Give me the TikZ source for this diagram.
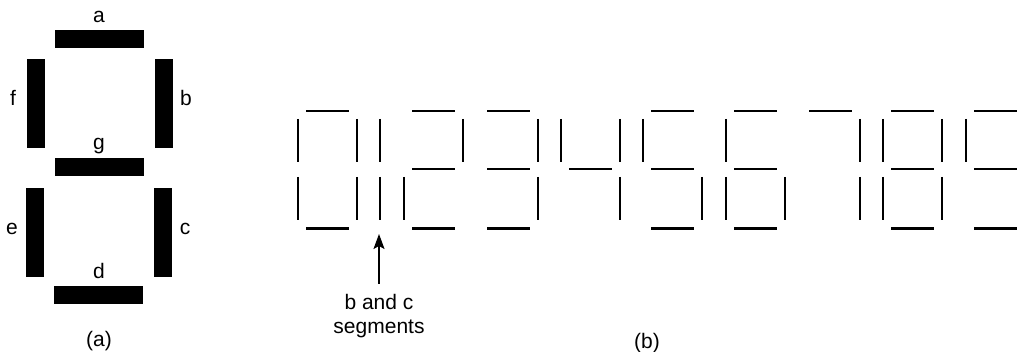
\documentclass[tikz,border=0pt]{standalone}
\usepackage{fontspec}
\setmainfont{Liberation Sans}
\usetikzlibrary{arrows.meta}
\begin{document}
\begin{tikzpicture}[x=1pt,y=-1pt,
  hseg/.style={fill=black,draw=none,minimum width=89pt,minimum height=18pt,inner sep=0pt},
  vseg/.style={fill=black,draw=none,minimum width=18pt,minimum height=89pt,inner sep=0pt},
  lbl/.style={font=\fontsize{21}{25}\selectfont,inner sep=0pt,anchor=base},
  dseg/.style={line width=2.8pt,black},
  pointer/.style={line width=1.3pt,-{Stealth[length=15pt,width=11pt,inset=3pt]}}]
\useasboundingbox (0,0) rectangle (1024,352);
% (a) segment display
\node[hseg] (sa) at (99.5,39) {};
\node[vseg] (sf) at (36,103.5) {};
\node[vseg] (sb) at (163.5,103.5) {};
\node[hseg] (sg) at (99.5,167) {};
\node[vseg] (se) at (35,232.5) {};
\node[vseg] (sc) at (163,232.5) {};
\node[hseg] (sd) at (98.5,295) {};
\node[lbl] (la) at (99,23) {a};
\node[lbl] (lf) at (13,106) {f};
\node[lbl] (lb) at (186,106) {b};
\node[lbl] (lg) at (99,150) {g};
\node[lbl] (le) at (12,235) {e};
\node[lbl] (lc) at (185,235) {c};
\node[lbl] (ld) at (99,279) {d};
\node[lbl] (capa) at (99,346) {(a)};
% (b) digits
\def\sega#1{\draw[dseg] (#1+8,111) -- (#1+51,111);}
\def\segb#1{\draw[dseg] (#1+59,119) -- (#1+59,162);}
\def\segc#1{\draw[dseg] (#1+59,177) -- (#1+59,220);}
\def\segd#1{\draw[dseg] (#1+8,228.5) -- (#1+51,228.5);}
\def\sege#1{\draw[dseg] (#1,177) -- (#1,220);}
\def\segf#1{\draw[dseg] (#1,119) -- (#1,162);}
\def\segg#1{\draw[dseg] (#1+8,169) -- (#1+51,169);}
\foreach \L/\S in {298/{a,b,c,d,e,f},321/{b,c},404/{a,b,g,e,d},479/{a,b,g,c,d},
  561/{f,g,b,c},643/{a,f,g,c,d},726/{a,f,g,e,c,d},801/{a,b,c},883/{a,b,c,d,e,f,g},
  966/{a,b,c,d,f,g}}{
  \foreach \k in \S {\csname seg\k\endcsname{\L}}
}
\coordinate (tip) at (379,234);
\node[lbl] (bc1) at (379,309) {b and c};
\node[lbl] (bc2) at (379,333) {segments};
\draw[pointer] ([yshift=10pt]bc1.north) -- (tip);
\node[lbl] (capb) at (647,348) {(b)};
\end{tikzpicture}
\end{document}
